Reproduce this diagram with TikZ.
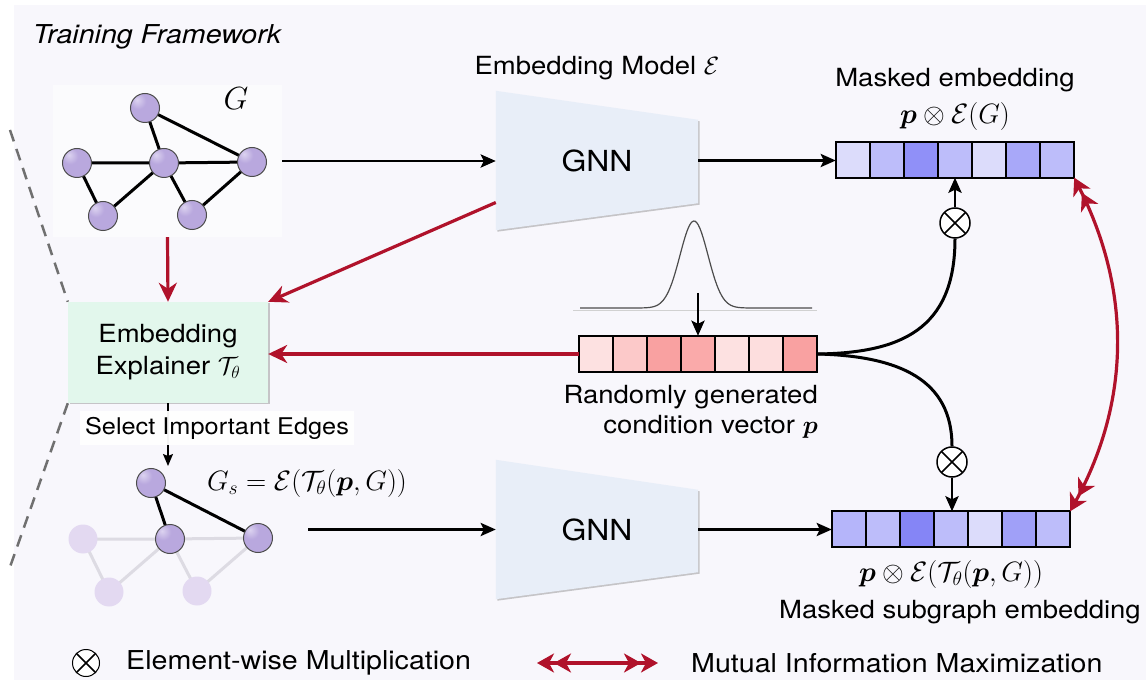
\RequirePackage{fix-cm}
\documentclass[tikz,border=0pt]{standalone}
\usepackage{amsmath,bm}
\usepackage{fontspec}
\setmainfont[FakeStretch=1.1]{TeX Gyre Heros}
\usetikzlibrary{arrows.meta,shadows,calc}

\definecolor{panel}{HTML}{F8F7FC}
\definecolor{mired}{HTML}{B0122B}
\definecolor{gnnfill}{HTML}{E8EEF8}
\definecolor{explfill}{HTML}{E2F7EC}
\definecolor{fadenode}{HTML}{E3D9F1}
\definecolor{fadeedge}{HTML}{DDDBE3}
\definecolor{dashgray}{HTML}{707070}
% embedding cell tones
\definecolor{bA}{HTML}{DCDCFB}
\definecolor{bB}{HTML}{BDBDFA}
\definecolor{bC}{HTML}{9090F8}
\definecolor{bD}{HTML}{A8A8F9}
\definecolor{bE}{HTML}{B5B5FA}
\definecolor{bF}{HTML}{8585F6}
\definecolor{bG}{HTML}{A0A0F8}
% condition vector tones
\definecolor{rA}{HTML}{FDE1E1}
\definecolor{rB}{HTML}{FCC9C9}
\definecolor{rC}{HTML}{F9A1A1}
\definecolor{rD}{HTML}{FAAAAA}
\definecolor{rE}{HTML}{FDDEDE}
% sphere shading for graph vertices
\definecolor{lavhi}{HTML}{DCD3F0}
\definecolor{lavmid}{HTML}{B9A8DE}
\definecolor{lavlow}{HTML}{9581C0}
\definecolor{lavrim}{HTML}{5E4C82}
\pgfdeclareradialshading{lavball}{\pgfpoint{-14bp}{14bp}}{%
  color(0bp)=(lavhi); color(14bp)=(lavmid); color(36bp)=(lavmid);
  color(56bp)=(lavlow); color(72bp)=(lavrim); color(100bp)=(lavrim)}

\pgfdeclarelayer{bg}
\pgfdeclarelayer{mid}
\pgfsetlayers{bg,mid,main}

% seven coloured cells inside a named vector node
\newcommand\vectorcells[2]{%
  \foreach \c [count=\i from 0] in {#2}
    \fill[\c] ($(#1.north west)+(\i*34,0)$) rectangle ($(#1.south west)+(\i*34+34,0)$);
  \draw[line width=1.8pt] (#1.north west) rectangle (#1.south east);
  \foreach \i in {1,...,6}
    \draw[line width=1.8pt] ($(#1.north west)+(\i*34,0)$) -- ($(#1.south west)+(\i*34,0)$);
}

\begin{document}
\begin{tikzpicture}[x=1pt,y=-1pt,
  txt/.style={font=\fontsize{25}{30}\selectfont, text=black, inner sep=0pt},
  mth/.style={font=\fontsize{28}{32}\selectfont, text=black, inner sep=0pt},
  ball/.style={circle, minimum size=29pt, inner sep=0pt, shading=lavball, draw=black!70, line width=1pt},
  fball/.style={circle, minimum size=29pt, inner sep=0pt, fill=fadenode},
  gedge/.style={line width=3pt, black},
  fedge/.style={line width=3pt, fadeedge},
  blk/.style={line width=2.8pt, -{Stealth[length=15pt,width=13pt,inset=3pt]}},
  thinblk/.style={line width=1.2pt, -{Stealth[length=12pt,width=10pt,inset=2pt]}},
  redarr/.style={line width=3.2pt, mired, -{Stealth[length=19pt,width=18pt,inset=6pt]}},
  dbl/.style={line width=3.2pt, mired,
    {Stealth[length=17pt,width=19pt,inset=5pt]Stealth[length=17pt,width=19pt,inset=5pt]}-{Stealth[length=17pt,width=19pt,inset=5pt]Stealth[length=17pt,width=19pt,inset=5pt]}},
  gnnbox/.style={inner sep=0pt, minimum width=202pt, minimum height=139pt, font=\fontsize{29}{32}\selectfont},
  gnnshape/.style={fill=gnnfill, drop shadow={shadow xshift=1.5pt, shadow yshift=-1.5pt, opacity=0.35, fill=black!60}},
  vecbox/.style={inner sep=0pt, minimum width=238pt, minimum height=35pt},
  otimes/.style={circle, draw, fill=white, line width=1.5pt, minimum size=30pt, inner sep=0pt,
    path picture={\draw[line width=1.5pt] (path picture bounding box.north west) -- (path picture bounding box.south east)
      (path picture bounding box.south west) -- (path picture bounding box.north east);}},
]
\useasboundingbox (0,0) rectangle (1146,684);
\begin{pgfonlayer}{bg}
  \fill[white] (0,0) rectangle (1146,684);
  \fill[panel] (14,5) rectangle (1146,680);
\end{pgfonlayer}

% heading
\node[font=\fontsize{26}{30}\selectfont\itshape, inner sep=0pt] (title) at (157,37) {Training Framework};

% explainer block
\node[txt, align=center, fill=explfill, minimum width=200pt, minimum height=101pt,
  drop shadow={shadow xshift=1.5pt, shadow yshift=-1.5pt, opacity=0.35, fill=black!60}]
  (expl) at (168,352.5) {Embedding\\[2pt]Explainer $\mathcal{T}_\theta$};

% zoom-out dashes on the left
\coordinate (dtop) at (10,130);
\coordinate (dbot) at (10,567);
\draw[dashgray, line width=2.5pt, dash pattern=on 12pt off 8pt] (dtop) -- (expl.north west);
\draw[dashgray, line width=2.5pt, dash pattern=on 12pt off 8pt] (expl.south west) -- (dbot);

% input graph G
\node[fill=white, fill opacity=0.5, minimum width=229pt, minimum height=152pt, inner sep=0pt] (gbox) at (167.5,161) {};
\coordinate (p1) at (145,108);
\coordinate (p2) at (77,163);
\coordinate (p3) at (164,163);
\coordinate (p4) at (252,162);
\coordinate (p5) at (103,216);
\coordinate (p6) at (192,215);
\draw[gedge] (p1) -- (p3) (p1) -- (p4) (p2) -- (p3) (p3) -- (p4)
  (p2) -- (p5) (p3) -- (p5) (p3) -- (p6) (p4) -- (p6);
\foreach \k in {1,...,6} \node[ball] (g\k) at (p\k) {};
\node[mth, font=\fontsize{32}{34}\selectfont] (glabel) at (236,99) {$G$};

% subgraph G_s
\coordinate (q1) at (151,483);
\coordinate (q2) at (83,539);
\coordinate (q3) at (170,539);
\coordinate (q4) at (258,538);
\coordinate (q5) at (109,592);
\coordinate (q6) at (197,591);
\draw[fedge] (q2) -- (q3) (q3) -- (q4) (q2) -- (q5) (q3) -- (q5) (q3) -- (q6) (q4) -- (q6);
\foreach \k in {2,5,6} \node[fball] (s\k) at (q\k) {};
\draw[gedge] (q1) -- (q3) (q1) -- (q4);
\foreach \k in {1,3,4} \node[ball] (s\k) at (q\k) {};
\node[mth] (gsl) at (307,483) {$G_s=\mathcal{E}(\mathcal{T}_\theta(\bm{p},G))$};

% GNN encoders
\node[gnnbox] (gnn1) at (597,160.5) {GNN};
\node[gnnbox] (gnn2) at (597,529.5) {GNN};
\begin{pgfonlayer}{mid}
  \path[gnnshape] (gnn1.north west) -- ($(gnn1.north east)+(0,29)$) -- ($(gnn1.south east)+(0,-27)$) -- (gnn1.south west) -- cycle;
  \path[gnnshape] (gnn2.north west) -- ($(gnn2.north east)+(0,30)$) -- ($(gnn2.south east)+(0,-27)$) -- (gnn2.south west) -- cycle;
\end{pgfonlayer}
\node[txt] (emtitle) at (597,68) {Embedding Model $\mathcal{E}$};

% masked embeddings
\node[vecbox] (emb) at (955,160) {};
\vectorcells{emb}{bA,bB,bC,bB,bA,bD,bB}
\node[txt] (embl1) at (955,80) {Masked embedding};
\node[mth] (embl2) at (955,117) {$\bm{p}\otimes\mathcal{E}(G)$};

\node[vecbox] (sub) at (951,529) {};
\vectorcells{sub}{bE,bB,bF,bB,bA,bG,bB}
\node[mth] (subl1) at (951,574) {$\bm{p}\otimes\mathcal{E}(\mathcal{T}_\theta(\bm{p},G))$};
\node[txt] (subl2) at (960,612) {Masked subgraph embedding};

% condition vector and its prior
\node[vecbox, minimum height=36pt] (cond) at (698,354) {};
\vectorcells{cond}{rA,rB,rC,rD,rA,rE,rC}
\draw[black!18, line width=1pt] (573,311) -- (817,311);
\draw[black!70, line width=1.2pt] plot[domain=580:812, samples=150] (\x, {308-87*exp(-((\x-694)^2)/392)});
\coordinate (gauss) at (698,293);
\draw[blk] (gauss) -- (gauss |- cond.north);
\node[txt, align=right, anchor=north east] (condl) at (818,385) {Randomly generated\\condition vector $\bm{p}$};

% element-wise products
\node[otimes] (ot1) at (955,223) {};
\node[otimes] (ot2) at (952,462) {};
\draw[line width=3pt] (cond.east) .. controls (900,353) and (955,330) .. (ot1.south);
\draw[line width=3pt] (cond.east) .. controls (900,356) and (952,380) .. (ot2.north);
\draw[blk] (ot1.north) -- (ot1.north |- emb.south);
\draw[blk] (ot2.south) -- (ot2.south |- sub.north);

% black data flow
\draw[blk] (gbox.east) -- (gbox.east -| gnn1.west);
\draw[blk] (gnn1.east) -- (gnn1.east -| emb.west);
\coordinate (sgout) at (308,529.5);
\draw[blk] (sgout) -- (sgout -| gnn2.west);
\draw[blk] (gnn2.east) -- (gnn2.east -| sub.west);
\coordinate (selend) at (168,466);
\draw[thinblk] (expl.south) -- (selend);
\node[txt, font=\fontsize{23}{28}\selectfont, fill=white, fill opacity=0.95, text opacity=1,
  inner xsep=5pt, inner ysep=6pt] (sel) at (217,428) {Select Important Edges};

% red feedback into the explainer
\draw[redarr] (gbox.south) -- (expl.north);
\draw[redarr] ($(gnn1.west)+(0,42)$) -- (expl.north east);
\draw[redarr] (cond.west) -- (cond.west -| expl.east);

% mutual information link
\draw[dbl] (emb.south east) .. controls (1131,290) and (1131,400) .. (sub.north east);

% legend
\node[otimes, minimum size=27pt, line width=1pt] (lot) at (86,663) {};
\node[txt, font=\fontsize{26}{30}\selectfont, anchor=west] (lotl) at (126,663) {Element-wise Multiplication};
\coordinate (la1) at (537,663);
\coordinate (la2) at (658,663);
\draw[dbl] (la1) -- (la2);
\node[txt, font=\fontsize{26}{30}\selectfont, anchor=west] (lal) at (691,663) {Mutual Information Maximization};
\end{tikzpicture}
\end{document}
